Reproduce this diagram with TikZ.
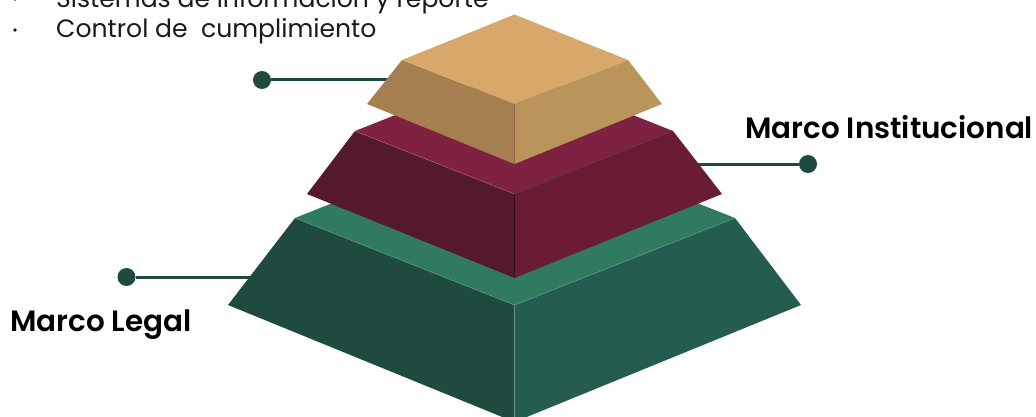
\documentclass[tikz,border=0pt]{standalone}
\usepackage{fontspec}
\setmainfont[BoldFont={Poppins SemiBold}]{Poppins}
\definecolor{dotgreen}{HTML}{1F4A40}
\definecolor{goldtop}{HTML}{D7A869}
\definecolor{goldleft}{HTML}{A57F4F}
\definecolor{goldright}{HTML}{BA955A}
\definecolor{wine}{HTML}{7F2140}
\definecolor{wineleft}{HTML}{55192D}
\definecolor{wineright}{HTML}{691C32}
\definecolor{greentop}{HTML}{317A62}
\definecolor{greenleft}{HTML}{1F4A40}
\definecolor{greenright}{HTML}{255C50}
\definecolor{inktext}{HTML}{1A1A1A}
\tikzset{
  x=1pt,y=-1pt,
  leader/.style={draw=dotgreen,line width=3pt},
  leaderdot/.style={circle,fill=dotgreen,inner sep=0pt,minimum size=18pt},
  heading/.style={anchor=base west,inner sep=0pt,font=\fontsize{29.4}{32}\selectfont\bfseries,text=black},
  listitem/.style={anchor=base west,inner sep=0pt,font=\fontsize{25.1}{30}\selectfont,text=inktext},
  bulletmark/.style={circle,fill=inktext,inner sep=0pt,minimum size=3.8pt},
  seam/.style={line width=0.5pt,line join=round}
}
\begin{document}
\begin{tikzpicture}
\useasboundingbox (0,0) rectangle (1036,417);
\clip (0,0) rectangle (1036,417);

% Points where the leader lines disappear behind the tiers
\coordinate (goldend) at (395,80);
\coordinate (wineend) at (690,164);
\coordinate (greenend) at (258,277);

% Leader lines and their end dots
\node[leaderdot] (golddot) at (262,80) {};
\node[leaderdot] (winedot) at (808,164) {};
\node[leaderdot] (greendot) at (126.5,277) {};
\draw[leader] (golddot) -- (goldend);
\draw[leader] (winedot) -- (wineend);
\draw[leader] (greendot) -- (greenend);

% Bottom tier
\fill[greentop] (295,218) -- (514.5,131) -- (735,218) -- (514.5,305) -- cycle;
\fill[greenleft] (295,218) -- (514.5,305) -- (514.5,422) -- (228,305) -- cycle;
\fill[greenright] (735,218) -- (514.5,305) -- (514.5,422) -- (801,305) -- cycle;
\draw[seam,draw=greentop!75!white] (295,218) -- (514.5,305) -- (735,218);
\draw[seam,draw=greenright!70!white] (514.5,305) -- (514.5,422);

% Middle tier
\fill[wine] (355,131) -- (514.5,68) -- (673,131) -- (514.5,194) -- cycle;
\fill[wineleft] (355,131) -- (514.5,194) -- (514.5,278) -- (307,194) -- cycle;
\fill[wineright] (673,131) -- (514.5,194) -- (514.5,278) -- (722,194) -- cycle;
\draw[seam,draw=wine!70!white] (355,131) -- (514.5,194);
\draw[seam,draw=wineleft!70!gray] (514.5,194) -- (673,131);
\draw[seam,draw=wineleft!60!black] (514.5,194) -- (514.5,278);

% Top tier
\fill[goldleft] (402,60) -- (514.5,104) -- (514.5,164) -- (367,104) -- cycle;
\fill[goldright] (628,60) -- (514.5,104) -- (514.5,164) -- (662,104) -- cycle;
\fill[goldtop] (402,60) -- (514.5,14.5) -- (628,60) -- (514.5,104) -- cycle;
\draw[seam,draw=goldleft!70!wine] (514.5,104) -- (514.5,164);

% Labels
\node[heading] (legal) at (10,331) {Marco Legal};
\node[heading] (inst) at (745,139) {Marco Institucional};
\node[listitem] (item1) at (56,8) {Sistemas de información y reporte};
\node[listitem] (item2) at (56,38) {Control de\ \ cumplimiento};
\node[bulletmark] (bullet1) at (15,-1) {};
\node[bulletmark] (bullet2) at (15,30) {};
\end{tikzpicture}
\end{document}
